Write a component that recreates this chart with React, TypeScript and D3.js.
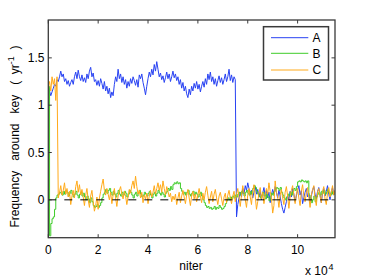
import React from 'react';
import * as d3 from 'd3';

const W = 370;
const H = 277;

const xTicks = [0, 2, 4, 6, 8, 10];
const xTickLabels = ['0', '2', '4', '6', '8', '10'];
const yTicks = [0, 0.5, 1, 1.5];
const yTickLabels = ['0', '0.5', '1', '1.5'];
const seriesNames = ['A', 'B', 'C'];
const seriesColors = ['#2842f2', '#3fcc2a', '#ffaa1a'];
const niterStep = 0.05; // x 10^4 per sample

const seriesA = [
  1.20, 1.15, 1.10, 1.14, 1.18, 1.22, 1.20, 1.27, 1.25, 1.30,
  1.36, 1.30, 1.33, 1.25, 1.28, 1.22, 1.26, 1.20, 1.24, 1.27,
  1.22, 1.30, 1.35, 1.28, 1.37, 1.30, 1.26, 1.32, 1.25, 1.29,
  1.24, 1.33, 1.28, 1.36, 1.40, 1.30, 1.34, 1.25, 1.27, 1.21,
  1.26, 1.20, 1.28, 1.23, 1.17, 1.25, 1.15, 1.20, 1.12, 1.18,
  1.08, 1.14, 1.10, 1.22, 1.30, 1.25, 1.38, 1.28, 1.33, 1.24,
  1.30, 1.22, 1.27, 1.18, 1.25, 1.20, 1.28, 1.23, 1.30, 1.26,
  1.21, 1.27, 1.19, 1.32, 1.28, 1.33, 1.24, 1.18, 1.11, 1.20,
  1.28, 1.35, 1.30, 1.38, 1.32, 1.43, 1.36, 1.46, 1.38, 1.30,
  1.34, 1.27, 1.31, 1.24, 1.29, 1.35, 1.28, 1.33, 1.25, 1.30,
  1.36, 1.29, 1.33, 1.26, 1.30, 1.22, 1.27, 1.18, 1.24, 1.15,
  1.20, 1.12, 1.08, 1.17, 1.11, 1.20, 1.15, 1.23, 1.18, 1.25,
  1.17, 1.22, 1.14, 1.20, 1.25, 1.19, 1.28, 1.22, 1.33, 1.27,
  1.35, 1.25, 1.30, 1.22, 1.28, 1.20, 1.26, 1.31, 1.24, 1.29,
  1.22, 1.27, 1.33, 1.25, 1.30, 1.38, 1.26, 1.32, 1.24, 1.30,
  1.27,
  -0.18, -0.05, 0.02, 0.08, 0.03, 0.12, 0.06, 0.15, 0.10, 0.18,
  0.12, 0.05, 0.10, 0.02, 0.08, 0.14, 0.06, 0.11, 0.03, 0.09,
  0.00, 0.07, 0.13, 0.04, 0.10, 0.02, 0.08, -0.03, 0.05, 0.11,
  0.06, 0.14, 0.08, 0.02, 0.10, 0.04, -0.04, -0.10, -0.14, -0.08,
  -0.02, 0.05, 0.00, 0.09, 0.03, 0.12, 0.06, -0.02, 0.04, 0.10,
  0.15, 0.05, 0.10, -0.04, 0.02, 0.08, 0.12, 0.03, 0.07, -0.02,
  0.04, 0.10, 0.14, 0.06, 0.01, 0.09, 0.13, 0.05, -0.03, 0.07,
  0.12, 0.04, 0.09, 0.15, 0.06, 0.00, 0.08, 0.13, 0.05, 0.10,
];

const seriesB = [
  1.20, -0.38, -0.25, -0.20, -0.18, -0.10, 0.02, 0.05, 0.06, 0.08,
  0.07, 0.05, 0.09, 0.06, 0.10, 0.08, 0.04, 0.07, 0.10, 0.06,
  0.03, 0.06, 0.09, 0.05, 0.02, 0.06, 0.08, 0.04, 0.07, 0.03,
  0.00, 0.04, 0.01, -0.03, 0.02, -0.02, -0.06, -0.08, -0.07, -0.05,
  -0.08, -0.06, -0.03, 0.02, 0.06, 0.08, 0.11, 0.07, 0.10, 0.12,
  0.08, 0.05, 0.09, 0.06, 0.03, 0.07, 0.10, 0.06, 0.04, 0.08,
  0.05, 0.09, 0.07, 0.03, 0.06, 0.10, 0.08, 0.05, 0.02, 0.06,
  0.08, 0.04, 0.07, 0.10, 0.06, 0.03, 0.05, 0.08, 0.06, 0.04,
  0.07, 0.09, 0.05, 0.02, 0.06, 0.08, 0.04, 0.07, 0.10, 0.07,
  0.05, 0.08, 0.06, 0.03, 0.07, 0.09, 0.12, 0.10, 0.14, 0.11,
  0.16, 0.18, 0.17, 0.19, 0.17, 0.18, 0.12, 0.09, 0.06, 0.08,
  0.05, 0.08, 0.10, 0.06, 0.04, 0.07, 0.09, 0.05, 0.08, 0.06,
  0.03, 0.06, 0.08, 0.04, 0.00, -0.03, -0.06, -0.08, -0.07, -0.09,
  -0.08, -0.10, -0.09, -0.07, -0.10, -0.08, -0.09, -0.06, -0.08, -0.10,
  -0.09, -0.07, -0.04, -0.01, 0.02, 0.00, 0.03, 0.01, 0.04, 0.02,
  0.05, 0.03, 0.06, 0.08, 0.05, 0.09, 0.07, 0.04, 0.08, 0.10,
  0.07, 0.05, 0.09, 0.06, 0.12, 0.15, 0.13, 0.09, 0.06, 0.04,
  0.02, 0.05, 0.08, 0.04, 0.01, 0.06, 0.03, -0.01, 0.04, 0.07,
  0.05, 0.09, 0.11, 0.13, 0.12, 0.10, 0.13, 0.08, 0.05, 0.02,
  0.00, 0.03, 0.06, 0.04, 0.08, 0.05, 0.09, 0.12, 0.10, 0.14,
  0.19, 0.20, 0.19, 0.21, 0.20, 0.19, 0.20, 0.18, 0.20, 0.05,
  0.02, -0.03, 0.00, 0.04, -0.02, 0.03, 0.06, 0.08, 0.05, 0.09,
  0.07, 0.10, 0.06, 0.08, 0.11, 0.07, 0.05, 0.09, 0.06, 0.08,
  0.07,
];

const seriesC = [
  1.20, 1.25, 1.15, 1.30, 1.22, 1.28, 1.05, 1.30,
  0.02, 0.08, 0.15, 0.05, 0.10, 0.18, 0.06, 0.12, 0.03, 0.09,
  -0.05, 0.04, 0.10, 0.02, 0.14, 0.20, 0.08, 0.16, 0.05, 0.11,
  0.03, -0.06, 0.05, 0.12, 0.00, -0.08, 0.04, 0.10, -0.02, -0.12,
  -0.06, 0.03, -0.10, 0.02, 0.09, 0.16, 0.22, 0.10, 0.05, 0.12,
  0.06, 0.00, 0.08, -0.04, 0.05, 0.12, 0.02, -0.07, 0.04, 0.10,
  0.14, 0.06, 0.01, 0.09, 0.04, -0.05, 0.03, 0.11, 0.07, 0.15,
  0.20, 0.12, 0.25, 0.14, 0.06, 0.10, 0.02, 0.08, -0.03, 0.05,
  0.01, 0.07, -0.04, 0.04, 0.10, 0.03, 0.08, 0.15, 0.06, 0.12,
  0.18, 0.10, 0.16, 0.08, 0.20, 0.12, 0.05, 0.14, 0.09, 0.03,
  0.07, -0.02, 0.04, 0.00, 0.06, -0.05, 0.02, 0.08, -0.03, 0.04,
  0.10, 0.03, -0.04, 0.05, 0.11, 0.02, -0.06, 0.04, 0.09, 0.01,
  0.06, -0.02, 0.05, 0.12, 0.04, -0.03, 0.07, 0.00, 0.08, 0.14,
  0.05, -0.04, 0.03, 0.09, -0.02, 0.06, 0.11, 0.02, -0.05, 0.04,
  0.08, 0.01, -0.06, 0.03, 0.07, -0.03, 0.05, 0.10, 0.02, -0.04,
  0.04, 0.09, -0.02, 0.06, 0.12, 0.03, -0.07, 0.05, 0.15, 0.07,
  0.00, -0.08, 0.05, 0.12, 0.03, -0.05, 0.09, 0.16, 0.04, -0.10,
  -0.02, 0.07, 0.13, 0.01, 0.08, -0.04, 0.05, 0.12, 0.06, 0.18,
  0.09, 0.02, -0.14, -0.06, 0.20, 0.08, 0.03, -0.08, 0.05, 0.11,
  0.02, -0.05, 0.08, 0.14, 0.04, -0.09, 0.03, 0.10, 0.15, 0.05,
  -0.04, 0.06, 0.12, 0.02, -0.06, 0.09, 0.16, 0.04, -0.02, 0.07,
  0.13, 0.03, -0.08, 0.05, 0.11, 0.15, 0.02, -0.06, 0.08, 0.12,
  0.04, -0.03, 0.09, 0.14, 0.01, -0.05, 0.07, 0.13, 0.03, 0.08,
  0.15, 0.05, 0.10,
];

const allSeries = [seriesA, seriesB, seriesC];

export default function App() {
  const left = 48.3, right = 335, top = 20, bottom = 237.7;
  const x = d3.scaleLinear().domain([0, 11.5]).range([left, right]);
  const y = d3.scaleLinear().domain([-0.4, 1.9]).range([bottom, top]);
  const font = "'Liberation Sans', Arial, Helvetica, sans-serif";
  const tickLen = 3.5;
  const axisColor = '#3a3a3a';

  const makeLine = (stepped: boolean) =>
    d3
      .line<number>()
      .x((_, i) => x(i * niterStep))
      .y((d) => y(d))
      .curve(stepped ? d3.curveStepAfter : d3.curveLinear);

  const legX = 263.5, legY = 26.7, legW = 65, legH = 53.3;
  const legRows = [37.7, 53.3, 70];

  return (
    <svg
      width={W}
      height={H}
      style={{ position: 'fixed', left: 0, top: 0, background: '#fff' }}
      fontFamily={font}
    >
      <defs>
        <clipPath id="plotClip">
          <rect x={left} y={top} width={right - left} height={bottom - top} />
        </clipPath>
      </defs>
      <rect x={0} y={0} width={W} height={H} fill="#fff" />
      <g clipPath="url(#plotClip)">
        {allSeries.map((s, k) => (
          <path
            key={k}
            d={makeLine(k === 1)(s) || ''}
            fill="none"
            stroke={seriesColors[k]}
            strokeWidth={1}
            strokeLinejoin="round"
          />
        ))}
        <line
          x1={left}
          x2={right}
          y1={y(0)}
          y2={y(0)}
          stroke="#000"
          strokeWidth={1}
          strokeDasharray="8,8"
        />
      </g>
      {/* axes box */}
      <rect
        x={left}
        y={top}
        width={right - left}
        height={bottom - top}
        fill="none"
        stroke={axisColor}
        strokeWidth={1.3}
      />
      {xTicks.map((t, i) => (
        <g key={'xt' + i}>
          <line x1={x(t)} x2={x(t)} y1={bottom} y2={bottom - tickLen} stroke={axisColor} />
          <line x1={x(t)} x2={x(t)} y1={top} y2={top + tickLen} stroke={axisColor} />
          <text x={x(t)} y={254} fontSize={12} textAnchor="middle" fill="#000">
            {xTickLabels[i]}
          </text>
        </g>
      ))}
      {yTicks.map((t, i) => (
        <g key={'yt' + i}>
          <line x1={left} x2={left + tickLen} y1={y(t)} y2={y(t)} stroke={axisColor} />
          <line x1={right} x2={right - tickLen} y1={y(t)} y2={y(t)} stroke={axisColor} />
          <text x={44.5} y={y(t) + 4.3} fontSize={12} textAnchor="end" fill="#000">
            {yTickLabels[i]}
          </text>
        </g>
      ))}
      <text x={191} y={270} fontSize={12} textAnchor="middle" fill="#000">
        niter
      </text>
      <text x={305} y={275} fontSize={12} fill="#000">
        x 10
        <tspan fontSize={9} dy={-5.5} dx={0.8}>4</tspan>
      </text>
      <text
        transform="translate(19,136.5) rotate(-90)"
        fontSize={12}
        textAnchor="middle"
        fill="#000"
        style={{ whiteSpace: 'pre' }}
      >
        {'Frequency   around   key   (  yr'}
        <tspan fontSize={9} dy={-5}>-1</tspan>
        <tspan dy={5}>{'  )'}</tspan>
      </text>
      {/* legend */}
      <rect
        x={legX}
        y={legY}
        width={legW}
        height={legH}
        fill="#fff"
        stroke={axisColor}
        strokeWidth={1.5}
      />
      {seriesNames.map((n, k) => (
        <g key={'lg' + k}>
          <line
            x1={271}
            x2={308.3}
            y1={legRows[k]}
            y2={legRows[k]}
            stroke={seriesColors[k]}
            strokeWidth={1}
          />
          <text x={312.5} y={legRows[k] + 4.3} fontSize={12} fill="#000">
            {n}
          </text>
        </g>
      ))}
    </svg>
  );
}
